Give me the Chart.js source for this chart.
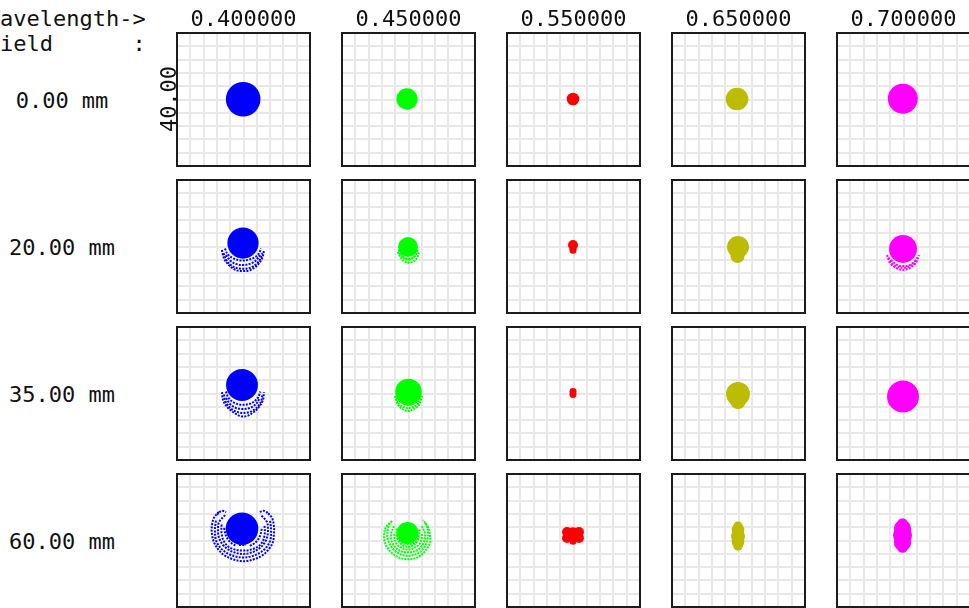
<!DOCTYPE html>
<html>
<head>
<meta charset="utf-8">
<script src="https://cdn.jsdelivr.net/npm/chart.js@4.4.1/dist/chart.umd.min.js"></script>
<style>
  html, body { margin: 0; padding: 0; background: #fff; overflow: hidden; width: 969px; height: 608px; }
  #page { position: relative; width: 969px; height: 608px; overflow: hidden; }
  .t { position: absolute; font-family: "DejaVu Sans Mono", "Liberation Mono", monospace; font-size: 22px; line-height: 22px; color: #111; white-space: pre; z-index: 2; }
  canvas { position: absolute; z-index: 1; }
</style>
</head>
<body>
<div id="page"></div>
<script>
// Column headers (wavelength, µm) and row headers (field height)
const wavelengths = ['0.400000', '0.450000', '0.550000', '0.650000', '0.700000'];
const fieldLabels = ['0.00 mm', '20.00 mm', '35.00 mm', '60.00 mm'];
const spotColors = ['#0000ff', '#00ff00', '#ff0000', '#bcbc00', '#ff00ff'];
const boxSizeUm = 40;          // full width of each spot box, µm
const gridStepUm = 4;          // grid spacing, µm
const scaleLabel = '40.00';

// Solid spot cores: [x, y, radius] in µm, one list per field
const discs400 = [
  [[-0.1, 0.1, 5.2]],
  [[-0.15, 1.05, 4.7]],
  [[-0.45, 2.55, 4.8]],
  [[-0.45, 3.55, 4.9]]
];
const discs450 = [
  [[-0.45, 0.15, 3.2]],
  [[-0.15, -0.15, 3.0]],
  [[0, 0.45, 4.0]],
  [[-0.3, 2.25, 3.3]]
];
const discs550 = [
  [[-0.15, 0.15, 1.9]],
  [[-0.15, 0.45, 1.5], [-0.15, -1.05, 1.1]],
  [[-0.15, 0.6, 1.05], [-0.15, -0.3, 1.05]],
  [[-1.95, 2.55, 1.5], [1.65, 2.55, 1.5], [-1.95, 0.75, 1.5], [1.65, 0.75, 1.5], [-0.15, 1.65, 2.3], [-0.15, -0.3, 1.0]]
];
const discs650 = [
  [[-0.45, 0.15, 3.4]],
  [[-0.15, -0.15, 3.3], [-0.3, -2.85, 2.1]],
  [[-0.15, -0.15, 3.6], [-0.15, -2.3, 2.4]],
  [[-0.15, 1.35, 2.1], [-0.15, 3.15, 1.9], [-0.15, -0.45, 1.9], [-0.15, 4.35, 1.4], [-0.15, -1.65, 1.4]]
];
const discs700 = [
  [[-0.2, 0.25, 4.5]],
  [[-0.15, -0.75, 4.2]],
  [[-0.15, -0.9, 4.8]],
  [[-0.3, 1.5, 2.85], [-0.3, 3.6, 2.6], [-0.3, -0.6, 2.6], [-0.3, 5.1, 1.6], [-0.3, -2.1, 1.6]]
];

// Scattered ray traces around the cores, as dotted arcs of [x, y] in µm
const flares400 = [
  [],
  [
    [[-6.5, -1.05], [-5.9, -3.5], [-4.4, -5.6], [-2.3, -7.1], [-0.15, -7.4], [2.0, -7.1], [4.2, -5.6], [5.6, -3.5], [6.2, -1.05]],
    [[-6.0, -2.0], [-4.9, -4.5], [-2.6, -6.3], [-0.15, -6.7], [2.3, -6.3], [4.6, -4.5], [5.7, -2.0]],
    [[-5.3, -2.6], [-3.8, -4.4], [-2.0, -5.3], [-0.15, -5.6], [1.65, -5.3], [3.5, -4.4], [5.0, -2.6]],
    [[-5.6, -0.6], [-4.7, -2.4], [-3.0, -3.6], [-0.15, -4.2], [2.7, -3.6], [4.4, -2.4], [5.3, -0.6]]
  ],
  [
    [[-6.45, 0.45], [-6.15, -1.95], [-4.95, -4.05], [-3.15, -5.55], [-1.05, -6.75], [1.05, -6.75], [3.15, -5.55], [4.65, -4.05], [5.85, -1.95], [6.15, 0.45]],
    [[-5.9, -0.3], [-5.3, -2.6], [-3.7, -4.6], [-1.3, -5.7], [1.3, -5.7], [3.6, -4.6], [5.2, -2.6], [5.7, -0.3]],
    [[-5.25, -1.35], [-4.05, -3.15], [-2.25, -4.35], [-0.15, -4.65], [1.95, -4.35], [3.75, -3.15], [4.95, -1.35]],
    [[-5.3, 0.6], [-4.5, -1.3], [-2.6, -2.9], [-0.15, -3.4], [2.4, -2.9], [4.3, -1.3], [5.1, 0.6]]
  ],
  [
    [[-7.4, 8.6], [-8.9, 6.8], [-9.5, 4.4], [-9.5, 2.0], [-8.9, -0.45], [-7.7, -2.55], [-5.9, -4.35], [-3.45, -5.55], [-1.05, -6.15],
     [1.05, -6.15], [3.45, -5.55], [5.85, -4.35], [7.65, -2.55], [8.85, -0.45], [9.15, 2.0], [9.15, 4.4], [8.55, 6.8], [7.05, 8.6]],
    [[-8.3, 6.0], [-8.6, 3.2], [-8.3, 0.2], [-7.1, -2.0], [-5.1, -3.7], [-2.4, -4.8], [-0.15, -5.1],
     [2.3, -4.8], [4.9, -3.7], [6.9, -2.0], [8.1, 0.2], [8.3, 3.2], [8.0, 6.0]],
    [[-5.55, 7.65], [-7.35, 5.55], [-7.65, 3.15], [-7.35, 0.75], [-6.15, -1.35], [-4.35, -2.85], [-2.25, -3.75], [-0.15, -4.05],
     [1.95, -3.75], [4.05, -2.85], [5.85, -1.35], [7.05, 0.75], [7.35, 3.15], [7.05, 5.55], [5.25, 7.65]],
    [[-6.6, 4.8], [-6.6, 2.2], [-5.9, -0.2], [-4.6, -1.8], [-2.3, -2.8], [-0.15, -3.0],
     [2.0, -2.8], [4.4, -1.8], [5.8, -0.2], [6.4, 2.2], [6.3, 4.8]],
    [[-5.85, 3.75], [-5.25, 1.35], [-4.05, -0.45], [-2.25, -1.65]],
    [[1.95, -1.65], [3.75, -0.45], [4.95, 1.35], [5.55, 3.75]],
    [[-8.0, 7.8], [-6.6, 8.9], [-5.2, 8.6]],
    [[4.9, 8.6], [6.3, 8.9], [7.8, 7.8]],
    [[-1.35, -1.35], [0.75, -1.35]]
  ]
];
const flares450 = [
  [],
  [
    [[-3.2, -1.65], [-2.25, -3.5], [-0.75, -4.7], [1.05, -4.7], [2.55, -3.5], [3.15, -1.65]],
    [[-2.9, -1.0], [-2.2, -2.8], [-0.15, -4.0], [2.0, -2.8], [2.8, -1.0]],
    [[-2.25, -2.25], [-1.05, -3.5], [1.05, -3.5], [2.25, -2.25]]
  ],
  [
    [[-4.05, -0.75], [-3.45, -2.85], [-2.25, -4.35], [-0.15, -5.25], [2.25, -4.35], [3.45, -2.85], [4.05, -0.75]],
    [[-3.6, -1.2], [-2.8, -3.3], [-0.15, -4.4], [2.7, -3.3], [3.5, -1.2]],
    [[-2.85, -1.95], [-1.35, -3.15], [-0.15, -3.45], [1.35, -3.15], [2.85, -1.95]]
  ],
  [
    [[-4.95, 5.85], [-6.75, 4.05], [-7.35, 1.65], [-7.05, -0.75], [-5.85, -2.85], [-3.75, -4.65], [-1.35, -5.55],
     [1.05, -5.55], [3.45, -4.65], [5.25, -2.85], [6.45, -0.75], [6.45, 1.65], [5.85, 4.05], [4.35, 6.15]],
    [[-5.6, 5.2], [-6.3, 3.0], [-6.2, 0.4], [-5.2, -1.8], [-3.5, -3.6], [-1.3, -4.5], [1.0, -4.5], [3.3, -3.6], [4.9, -1.8], [5.7, 0.4], [5.8, 3.0], [5.1, 5.4]],
    [[-4.35, 4.35], [-5.25, 1.95], [-4.95, -0.45], [-3.45, -2.55], [-1.35, -3.45], [1.05, -3.45], [3.15, -2.55], [4.65, -0.45], [4.95, 1.95], [4.05, 4.35]],
    [[-4.3, 2.0], [-4.0, -0.2], [-2.9, -1.7], [-0.15, -2.7], [2.6, -1.7], [3.8, -0.2], [4.1, 2.0]],
    [[-3.45, 0.75], [-2.25, -1.05], [-0.15, -1.95], [1.95, -1.05], [3.15, 0.75]],
    [[-3.6, 3.6], [-3.4, 1.2], [-2.4, -0.4], [-0.15, -1.1], [2.2, -0.4], [3.1, 1.2], [3.3, 3.6]]
  ]
];
const flares550 = [[], [], [], []];
const flares650 = [[], [], [], []];
const flares700 = [
  [],
  [
    [[-4.95, -2.55], [-4.05, -4.95], [-2.25, -6.45], [-0.15, -7.05], [1.95, -6.45], [3.75, -4.95], [4.65, -2.55]],
    [[-4.5, -3.3], [-3.2, -5.3], [-0.15, -6.4], [2.9, -5.3], [4.2, -3.3]],
    [[-3.75, -4.05], [-1.95, -5.55], [-0.15, -5.85], [1.95, -5.55], [3.75, -4.05]]
  ],
  [],
  []
];

const discsByWave = [discs400, discs450, discs550, discs650, discs700];
const flaresByWave = [flares400, flares450, flares550, flares650, flares700];

// ---- layout ----
const page = document.getElementById('page');
const BOX = 133, PAD = 3;
const colLeft = [177, 342, 507, 672, 837];
const rowTop = [33, 180, 327, 474];
const FONT = 22, BASE = 0.846 * FONT;   // baseline offset inside a 1em line box

function addText(txt, left, top, extra) {
  const d = document.createElement('div');
  d.className = 't';
  d.textContent = txt;
  d.style.left = left + 'px';
  d.style.top = top + 'px';
  if (extra) Object.assign(d.style, extra);
  page.appendChild(d);
  return d;
}

addText('Wavelength->', -13.2, 26.7 - BASE);
addText('Field      :', -13.2, 51.7 - BASE);
wavelengths.forEach((w, i) => addText(w, colLeft[i] + BOX / 2, 26.7 - BASE, { transform: 'translateX(-50%)' }));
fieldLabels.forEach((f, j) => addText(f, 62, rowTop[j] + BOX / 2 + 8.8 - BASE, { transform: 'translateX(-50%)' }));

// rotated scale-bar value beside the first box
const rot = document.createElement('div');
rot.style.cssText = 'position:absolute;left:177px;top:98.5px;width:0;height:0;transform:rotate(-90deg);transform-origin:0 0;z-index:2;';
const rs = addText(scaleLabel, 0, -BASE, { transform: 'translateX(-50%)' });
rot.appendChild(rs);
page.appendChild(rot);

const framePlugin = {
  id: 'frame',
  beforeDatasetsDraw(chart) {
    const { ctx, chartArea: a } = chart;
    ctx.save();
    ctx.strokeStyle = '#1c1c1c';
    ctx.lineWidth = 2;
    ctx.strokeRect(a.left, a.top, a.right - a.left, a.bottom - a.top);
    ctx.restore();
  }
};

function umToPx(chart, r) {
  const s = chart.scales.x;
  return Math.abs(s.getPixelForValue(r) - s.getPixelForValue(0));
}

function axis() {
  return {
    type: 'linear',
    min: -boxSizeUm / 2,
    max: boxSizeUm / 2,
    ticks: { display: false, stepSize: gridStepUm },
    grid: { color: '#e8e8e8', lineWidth: 2, drawTicks: false },
    border: { display: false }
  };
}

for (let i = 0; i < wavelengths.length; i++) {
  for (let j = 0; j < fieldLabels.length; j++) {
    const color = spotColors[i];
    const datasets = [];
    flaresByWave[i][j].forEach(arc => {
      datasets.push({
        type: 'scatter',
        data: arc.map(p => ({ x: p[0], y: p[1] })),
        showLine: true,
        borderColor: color,
        borderWidth: 2,
        borderDash: i === 1 ? [2, 1] : [2, 1.3],
        tension: 0.35,
        pointRadius: 0,
        pointHoverRadius: 0,
        fill: false
      });
    });
    datasets.push({
      type: 'scatter',
      data: discsByWave[i][j].map(d => ({ x: d[0], y: d[1], r: d[2] })),
      backgroundColor: color,
      borderWidth: 0,
      pointRadius: ctx => (ctx.raw ? umToPx(ctx.chart, ctx.raw.r) : 0),
      pointHoverRadius: ctx => (ctx.raw ? umToPx(ctx.chart, ctx.raw.r) : 0)
    });

    const cv = document.createElement('canvas');
    cv.width = BOX + 2 * PAD;
    cv.height = BOX + 2 * PAD;
    cv.style.left = (colLeft[i] - PAD) + 'px';
    cv.style.top = (rowTop[j] - PAD) + 'px';
    page.appendChild(cv);

    new Chart(cv, {
      type: 'scatter',
      data: { datasets },
      options: {
        responsive: false,
        devicePixelRatio: 1,
        animation: false,
        events: [],
        layout: { padding: PAD },
        plugins: { legend: { display: false }, tooltip: { enabled: false } },
        scales: { x: axis(), y: axis() }
      },
      plugins: [framePlugin]
    });
  }
}
</script>
</body>
</html>
